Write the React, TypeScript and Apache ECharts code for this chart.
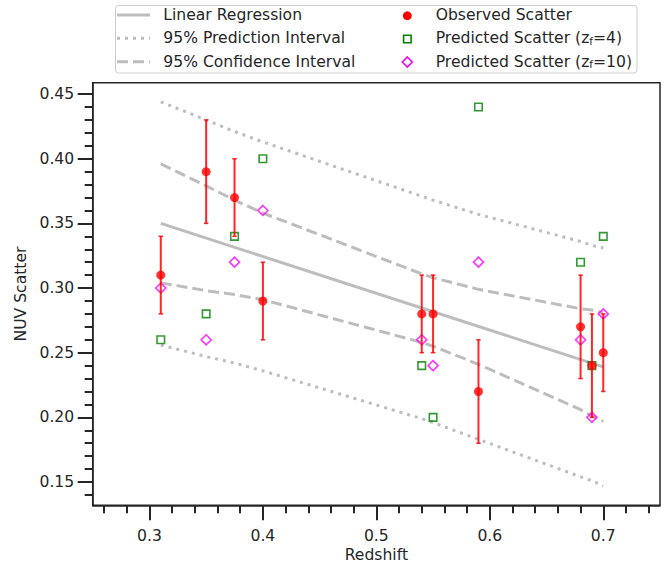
import React, { useEffect, useRef } from "react";
import * as echarts from "echarts";

// ---- data ----
const redshift = [0.31, 0.35, 0.375, 0.4, 0.54, 0.55, 0.59, 0.68, 0.69, 0.7];
const observedScatter = [0.31, 0.39, 0.37, 0.29, 0.28, 0.28, 0.22, 0.27, 0.24, 0.25];
const observedError = [0.03, 0.04, 0.03, 0.03, 0.03, 0.03, 0.04, 0.04, 0.04, 0.03];
const predictedZf4 = [0.26, 0.28, 0.34, 0.4, 0.24, 0.2, 0.44, 0.32, 0.24, 0.34];
const predictedZf10 = [0.3, 0.26, 0.32, 0.36, 0.26, 0.24, 0.32, 0.26, 0.2, 0.28];

const regressionX = [0.31, 0.7];
const regressionY = [0.35, 0.239];
const confUpper = [0.396, 0.379, 0.368, 0.358, 0.311, 0.308, 0.299, 0.284, 0.283, 0.281];
const confLower = [0.304, 0.298, 0.295, 0.291, 0.258, 0.255, 0.241, 0.206, 0.201, 0.197];
const predUpper = [0.444, 0.43, 0.421, 0.413, 0.371, 0.368, 0.357, 0.336, 0.333, 0.331];
const predLower = [0.256, 0.247, 0.242, 0.236, 0.199, 0.196, 0.183, 0.154, 0.151, 0.147];

const xMajorTicks = [0.3, 0.4, 0.5, 0.6, 0.7];
const xMinorTicks = [0.26, 0.28, 0.32, 0.34, 0.36, 0.38, 0.42, 0.44, 0.46, 0.48, 0.52, 0.54, 0.56, 0.58, 0.62, 0.64, 0.66, 0.68, 0.72, 0.74];
const yMajorTicks = [0.15, 0.2, 0.25, 0.3, 0.35, 0.4, 0.45];
const yMinorTicks = [0.14, 0.16, 0.17, 0.18, 0.19, 0.21, 0.22, 0.23, 0.24, 0.26, 0.27, 0.28, 0.29, 0.31, 0.32, 0.33, 0.34, 0.36, 0.37, 0.38, 0.39, 0.41, 0.42, 0.43, 0.44];

const X_MIN = 0.25;
const X_MAX = 0.75;
const Y_MIN = 0.132;
const Y_MAX = 0.4588;

const FONT = "DejaVu Sans";
const INK = "#262626";
const GRAY = "#bdbdbd";
const FS = 15.6;

const pairs = (ys: number[]) => redshift.map((x, i) => [x, ys[i]]);

export default function App() {
  const ref = useRef<HTMLDivElement>(null);

  useEffect(() => {
    document.body.style.margin = "0";
    if (!ref.current) return;
    const chart = echarts.init(ref.current, undefined, { renderer: "svg" });

    const axisCommon = {
      type: "value" as const,
      splitLine: { show: false },
    };

    const lineSeries = (name: string, data: number[][], type: any) => ({
      name,
      type: "line",
      data,
      symbol: "none",
      lineStyle: { color: GRAY, width: 3, type, cap: "butt" },
      silent: true,
      z: 2,
    });

    const rowY = [15, 38.3, 61.7];
    const legendText = (x: number, y: number, text: string) => ({
      type: "text",
      x,
      y,
      z: 101,
      style: {
        text,
        fontSize: FS,
        fontFamily: FONT,
        fill: INK,
        verticalAlign: "middle",
        align: "left",
        rich: {
          s: { fontSize: 10.5, fontFamily: FONT, fill: INK, verticalAlign: "bottom", lineHeight: 10 },
        },
      },
    });

    chart.setOption({
      animation: false,
      backgroundColor: "#ffffff",
      grid: {
        left: 92.7,
        right: 5,
        top: 82.7,
        bottom: 57.7,
        outerBoundsMode: "none",
        containLabel: false,
        show: true,
        borderColor: INK,
        borderWidth: 1.5,
        backgroundColor: "transparent",
      },
      xAxis: [
        {
          ...axisCommon,
          min: X_MIN,
          max: X_MAX,
          position: "bottom",
          axisLine: { show: true, onZero: false, lineStyle: { color: INK, width: 1.5 } },
          axisTick: { show: true, length: 15, customValues: xMajorTicks, lineStyle: { color: INK, width: 2 } },
          axisLabel: {
            customValues: xMajorTicks,
            formatter: (v: number) => v.toFixed(1),
            margin: 22.5,
            fontSize: FS,
            fontFamily: FONT,
            color: INK,
          },
          name: "Redshift",
          nameLocation: "middle",
          nameGap: 43,
          nameMoveOverlap: false,
          nameTextStyle: { fontSize: FS, fontFamily: FONT, color: INK, lineHeight: 14 },
        },
        {
          ...axisCommon,
          min: X_MIN,
          max: X_MAX,
          position: "bottom",
          axisLine: { show: false, onZero: false },
          axisTick: { show: true, length: 8, customValues: xMinorTicks, lineStyle: { color: INK, width: 2 } },
          axisLabel: { show: false },
        },
      ],
      yAxis: [
        {
          ...axisCommon,
          min: Y_MIN,
          max: Y_MAX,
          position: "left",
          axisLine: { show: true, onZero: false, lineStyle: { color: INK, width: 1.5 } },
          axisTick: { show: true, length: 15, customValues: yMajorTicks, lineStyle: { color: INK, width: 2 } },
          axisLabel: {
            customValues: yMajorTicks,
            formatter: (v: number) => v.toFixed(2),
            margin: 18.5,
            fontSize: FS,
            fontFamily: FONT,
            color: INK,
          },
          name: "NUV Scatter",
          nameLocation: "middle",
          nameGap: 58,
          nameTextStyle: { fontSize: FS, fontFamily: FONT, color: INK },
        },
        {
          ...axisCommon,
          min: Y_MIN,
          max: Y_MAX,
          position: "left",
          axisLine: { show: false, onZero: false },
          axisTick: { show: true, length: 8, customValues: yMinorTicks, lineStyle: { color: INK, width: 2 } },
          axisLabel: { show: false },
        },
      ],
      series: [
        lineSeries("95% Prediction Interval", pairs(predUpper), [3, 5]),
        lineSeries("95% Prediction Interval", pairs(predLower), [3, 5]),
        lineSeries("95% Confidence Interval", pairs(confUpper), [11, 5]),
        lineSeries("95% Confidence Interval", pairs(confLower), [11, 5]),
        lineSeries("Linear Regression", regressionX.map((x, i) => [x, regressionY[i]]), "solid"),
        {
          name: "Predicted Scatter (zf=4)",
          type: "scatter",
          data: pairs(predictedZf4),
          symbol: "rect",
          symbolSize: 7.5,
          itemStyle: { color: "rgba(0,0,0,0)", borderColor: "#008000", borderWidth: 1.6 },
          z: 3,
        },
        {
          name: "Predicted Scatter (zf=10)",
          type: "scatter",
          data: pairs(predictedZf10),
          symbol: "diamond",
          symbolSize: 10,
          itemStyle: { color: "rgba(0,0,0,0)", borderColor: "#ff00ff", borderWidth: 1.6 },
          z: 3,
        },
        {
          name: "Observed error",
          type: "custom",
          data: redshift.map((x, i) => [x, observedScatter[i] - observedError[i], observedScatter[i] + observedError[i]]),
          encode: { x: 0, y: [1, 2] },
          z: 4,
          renderItem: (params: any, api: any) => {
            const x = api.value(0);
            const lo = api.coord([x, api.value(1)]);
            const hi = api.coord([x, api.value(2)]);
            const stroke = "rgba(255,0,0,0.85)";
            const cap = 2.2;
            return {
              type: "group",
              children: [
                { type: "line", shape: { x1: lo[0], y1: lo[1], x2: hi[0], y2: hi[1] }, style: { stroke, lineWidth: 2 } },
                { type: "line", shape: { x1: lo[0] - cap, y1: lo[1], x2: lo[0] + cap, y2: lo[1] }, style: { stroke, lineWidth: 1.5 } },
                { type: "line", shape: { x1: hi[0] - cap, y1: hi[1], x2: hi[0] + cap, y2: hi[1] }, style: { stroke, lineWidth: 1.5 } },
              ],
            };
          },
        },
        {
          name: "Observed Scatter",
          type: "scatter",
          data: pairs(observedScatter),
          symbol: "circle",
          symbolSize: 9,
          itemStyle: { color: "#ff0000" },
          z: 5,
        },
      ],
      graphic: [
        {
          type: "rect",
          z: 100,
          shape: { x: 115.5, y: 5.5, width: 521.5, height: 67.5, r: 3 },
          style: { fill: "rgba(255,255,255,0.8)", stroke: "#cccccc", lineWidth: 1 },
        },
        { type: "line", z: 101, shape: { x1: 117, y1: rowY[0], x2: 150, y2: rowY[0] }, style: { stroke: GRAY, lineWidth: 3 } },
        { type: "line", z: 101, shape: { x1: 117, y1: rowY[1], x2: 150, y2: rowY[1] }, style: { stroke: GRAY, lineWidth: 3, lineDash: [3, 5] } },
        { type: "line", z: 101, shape: { x1: 117, y1: rowY[2], x2: 150, y2: rowY[2] }, style: { stroke: GRAY, lineWidth: 3, lineDash: [11, 5] } },
        legendText(163.3, rowY[0], "Linear Regression"),
        legendText(163.3, rowY[1], "95% Prediction Interval"),
        legendText(163.3, rowY[2], "95% Confidence Interval"),
        { type: "circle", z: 101, shape: { cx: 407.3, cy: 15.7, r: 4.4 }, style: { fill: "#ff0000" } },
        { type: "rect", z: 101, shape: { x: 403.6, y: 35.3, width: 7.5, height: 7.5 }, style: { fill: "none", stroke: "#008000", lineWidth: 1.6 } },
        {
          type: "polygon",
          z: 101,
          shape: { points: [[407.3, 57], [412.3, 62], [407.3, 67], [402.3, 62]] },
          style: { fill: "none", stroke: "#ff00ff", lineWidth: 1.6 },
        },
        legendText(435.7, rowY[0], "Observed Scatter"),
        legendText(435.7, rowY[1], "Predicted Scatter (z{s|f}=4)"),
        legendText(435.7, rowY[2], "Predicted Scatter (z{s|f}=10)"),
      ],
    });

    return () => chart.dispose();
  }, []);

  return <div ref={ref} style={{ width: 665, height: 563 }} />;
}
